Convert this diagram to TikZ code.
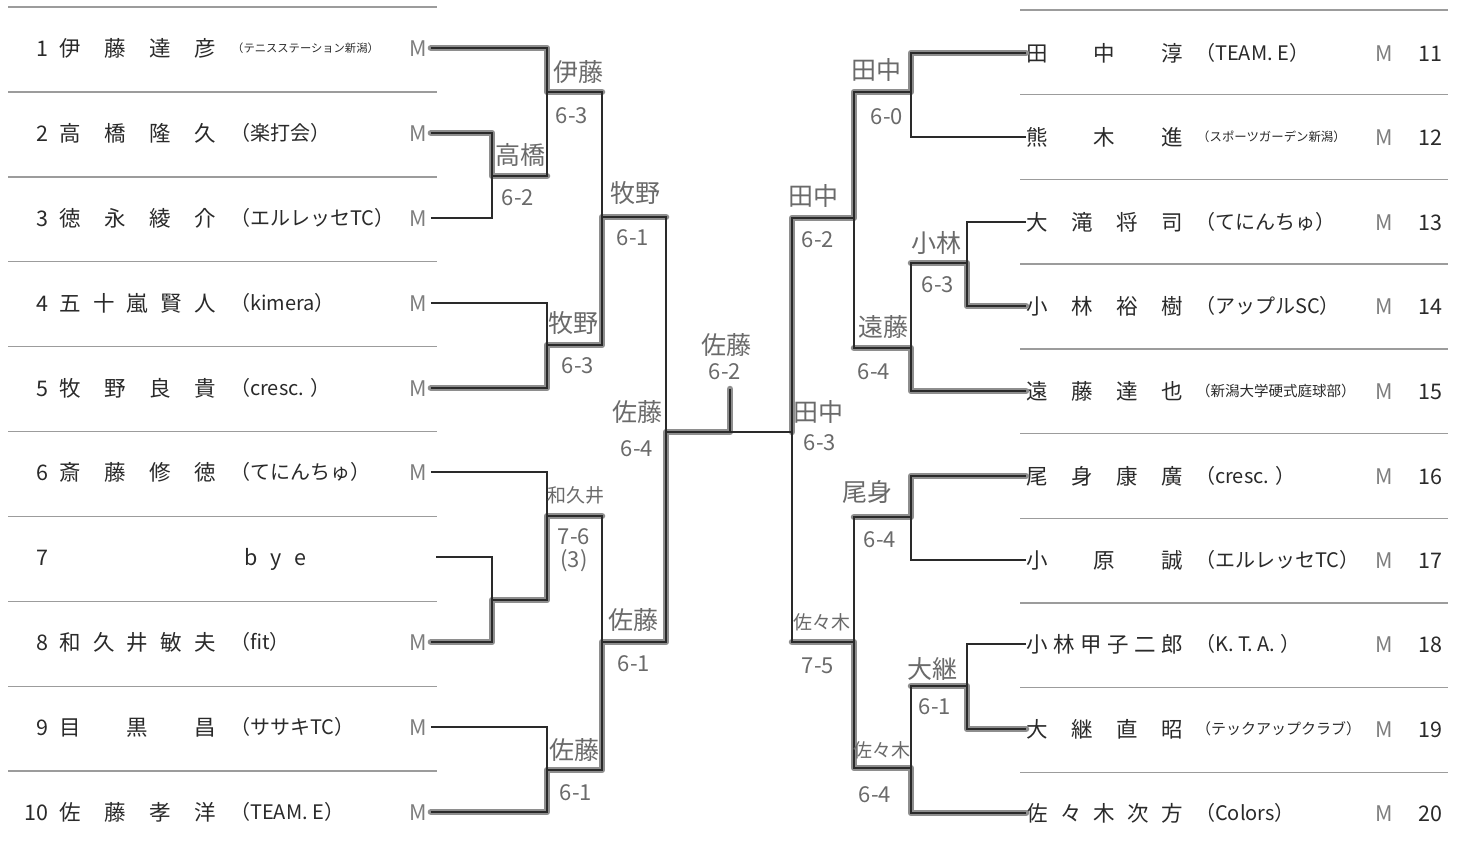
\documentclass[tikz,border=0pt]{standalone}
\usepackage{fontspec}
\setmainfont{Noto Sans CJK JP}
\definecolor{ink}{HTML}{2A2A2A}
\definecolor{mgray}{HTML}{7E7E7E}
\definecolor{rulegray}{HTML}{9C9C9C}
\definecolor{marker}{HTML}{8E8E8E}
\definecolor{pencil}{HTML}{6A6A6A}

\begin{document}
\begin{tikzpicture}[x=1pt, y=-1pt,
	num/.style={anchor=east, inner sep=0pt, text=ink, text height=16pt, text depth=0pt, font=\fontsize{21.5}{22}\selectfont},
	nm/.style={anchor=west, inner sep=0pt, text=ink, text height=16pt, text depth=0pt, font=\fontsize{21.5}{22}\selectfont},
	club/.style={anchor=west, inner sep=0pt, text=ink, text height=15.4pt, text depth=0pt, font=\fontsize{20}{20}\selectfont},
	mk/.style={inner sep=4pt, text=mgray, text height=16pt, text depth=0pt, font=\fontsize{21.5}{22}\selectfont},
	sep/.style={draw=rulegray, line width=1.4pt},
	ln/.style={draw=ink, line width=1.5pt},
	win/.style={draw=marker, line width=6.5pt, line cap=round, line join=round},
	hw/.style={text=pencil, inner sep=0pt, font=\fontsize{25}{25}\selectfont},
	hwl/.style={text=pencil, inner sep=0pt, font=\fontsize{19}{19}\selectfont},
	sc/.style={text=pencil, inner sep=0pt, font=\fontsize{22}{22}\selectfont},
]
	\fill[white] (0,0) rectangle (1458,852);
	\useasboundingbox (0,0) rectangle (1458,852);

	% separators
	\foreach \k in {0,...,9} {
		\draw[sep] (8,{7+84.9*\k}) -- (437,{7+84.9*\k});
		\draw[sep] (1020,{10+84.7*\k}) -- (1448,{10+84.7*\k});
	}

	% left players
	\node[num] (k1) at (49,48) {1};
	\node[nm] (n1) at (59,48) {\makebox[157pt][s]{伊 藤 達 彦}};
	\node[club, text height=8.7pt, font=\fontsize{11.3}{12}\selectfont] (c1) at (232,48) {（テニスステーション新潟）};
	\node[mk] (m1) at (418,48) {M};

	\node[num] (k2) at (49,133) {2};
	\node[nm] (n2) at (59,133) {\makebox[157pt][s]{高 橋 隆 久}};
	\node[club] (c2) at (230,133) {（楽打会）};
	\node[mk] (m2) at (418,133) {M};

	\node[num] (k3) at (49,218) {3};
	\node[nm] (n3) at (59,218) {\makebox[157pt][s]{徳 永 綾 介}};
	\node[club] (c3) at (230,218) {（エルレッセTC）};
	\node[mk] (m3) at (418,218) {M};

	\node[num] (k4) at (49,303) {4};
	\node[nm] (n4) at (59,303) {\makebox[157pt][s]{五 十 嵐 賢 人}};
	\node[club] (c4) at (230,303) {（kimera）};
	\node[mk] (m4) at (418,303) {M};

	\node[num] (k5) at (49,388) {5};
	\node[nm] (n5) at (59,388) {\makebox[157pt][s]{牧 野 良 貴}};
	\node[club] (c5) at (230,388) {（cresc. ）};
	\node[mk] (m5) at (418,388) {M};

	\node[num] (k6) at (49,472) {6};
	\node[nm] (n6) at (59,472) {\makebox[157pt][s]{斎 藤 修 徳}};
	\node[club] (c6) at (230,472) {（てにんちゅ）};
	\node[mk] (m6) at (418,472) {M};

	\node[num] (k7) at (49,557) {7};
	\node[nm, anchor=center] (n7) at (275,557) {\makebox[62pt][s]{b y e}};
	\coordinate (m7) at (436,557);

	\node[num] (k8) at (49,642) {8};
	\node[nm] (n8) at (59,642) {\makebox[157pt][s]{和 久 井 敏 夫}};
	\node[club] (c8) at (230,642) {（fit）};
	\node[mk] (m8) at (418,642) {M};

	\node[num] (k9) at (49,727) {9};
	\node[nm] (n9) at (59,727) {\makebox[157pt][s]{目 黒 昌}};
	\node[club] (c9) at (230,727) {（ササキTC）};
	\node[mk] (m9) at (418,727) {M};

	\node[num] (k10) at (49,812) {10};
	\node[nm] (n10) at (59,812) {\makebox[157pt][s]{佐 藤 孝 洋}};
	\node[club] (c10) at (230,812) {（TEAM. E）};
	\node[mk] (m10) at (418,812) {M};

	% right players
	\node[nm] (n11) at (1026,53) {\makebox[157pt][s]{田 中 淳}};
	\node[club] (c11) at (1195,53) {（TEAM. E）};
	\node[mk] (m11) at (1384,53) {M};
	\node[num] (k11) at (1443,53) {11};

	\node[nm] (n12) at (1026,137) {\makebox[157pt][s]{熊 木 進}};
	\node[club, text height=9.5pt, font=\fontsize{12.4}{13}\selectfont] (c12) at (1197,137) {（スポーツガーデン新潟）};
	\node[mk] (m12) at (1384,137) {M};
	\node[num] (k12) at (1443,137) {12};

	\node[nm] (n13) at (1026,222) {\makebox[157pt][s]{大 滝 将 司}};
	\node[club] (c13) at (1195,222) {（てにんちゅ）};
	\node[mk] (m13) at (1384,222) {M};
	\node[num] (k13) at (1443,222) {13};

	\node[nm] (n14) at (1026,306) {\makebox[157pt][s]{小 林 裕 樹}};
	\node[club] (c14) at (1195,306) {（アップルSC）};
	\node[mk] (m14) at (1384,306) {M};
	\node[num] (k14) at (1443,306) {14};

	\node[nm] (n15) at (1026,391) {\makebox[157pt][s]{遠 藤 達 也}};
	\node[club, text height=11.1pt, font=\fontsize{14.5}{15}\selectfont] (c15) at (1196,391) {（新潟大学硬式庭球部）};
	\node[mk] (m15) at (1384,391) {M};
	\node[num] (k15) at (1443,391) {15};

	\node[nm] (n16) at (1026,476) {\makebox[157pt][s]{尾 身 康 廣}};
	\node[club] (c16) at (1195,476) {（cresc. ）};
	\node[mk] (m16) at (1384,476) {M};
	\node[num] (k16) at (1443,476) {16};

	\node[nm] (n17) at (1026,560) {\makebox[157pt][s]{小 原 誠}};
	\node[club] (c17) at (1195,560) {（エルレッセTC）};
	\node[mk] (m17) at (1384,560) {M};
	\node[num] (k17) at (1443,560) {17};

	\node[nm] (n18) at (1026,644) {\makebox[157pt][s]{小 林 甲 子 二 郎}};
	\node[club] (c18) at (1195,644) {（K. T. A. ）};
	\node[mk] (m18) at (1384,644) {M};
	\node[num] (k18) at (1443,644) {18};

	\node[nm] (n19) at (1026,729) {\makebox[157pt][s]{大 継 直 昭}};
	\node[club, text height=11.5pt, font=\fontsize{15}{15}\selectfont] (c19) at (1196,729) {（テックアップクラブ）};
	\node[mk] (m19) at (1384,729) {M};
	\node[num] (k19) at (1443,729) {19};

	\node[nm] (n20) at (1026,813) {\makebox[157pt][s]{佐 々 木 次 方}};
	\node[club] (c20) at (1195,813) {（Colors）};
	\node[mk] (m20) at (1384,813) {M};
	\node[num] (k20) at (1443,813) {20};

	% junctions
	\coordinate (g23) at (492,176);
	\coordinate (g1) at (547,92);
	\coordinate (g45) at (547,345);
	\coordinate (gA) at (602,217);
	\coordinate (g78) at (492,600);
	\coordinate (g6) at (547,516);
	\coordinate (g910) at (547,770);
	\coordinate (gB) at (602,642);
	\coordinate (gL) at (666,432);
	\coordinate (ch) at (730,432);
	\coordinate (cht) at (730,389);
	\coordinate (h1112) at (911,92);
	\coordinate (h1314) at (967,263);
	\coordinate (h15) at (911,348);
	\coordinate (hC) at (854,218);
	\coordinate (h1617) at (911,517);
	\coordinate (h1819) at (967,686);
	\coordinate (h20) at (911,768);
	\coordinate (hD) at (854,642);
	\coordinate (gR) at (792,432);

	% winners
	\draw[win] (m1.east) -| (g1) -- (gA |- g1);
	\draw[win] (m2.east) -| (g23) -- (g1 |- g23);
	\draw[win] (m5.east) -| (g45) -- (gA |- g45) -- (gA) -- (gL |- gA);
	\draw[win] (m8.east) -| (g78) -- (g6 |- g78) -- (g6) -- (gB |- g6);
	\draw[win] (m10.east) -| (g910) -- (gB |- g910) -- (gB) -- (gL |- gB) -- (gL) -- (ch) -- (cht);
	\draw[win] (n11.west) -| (h1112) -- (hC |- h1112) -- (hC) -- (gR |- hC) -- (gR);
	\draw[win] (n14.west) -| (h1314) -- (h15 |- h1314);
	\draw[win] (n15.west) -| (h15) -- (hC |- h15);
	\draw[win] (n16.west) -| (h1617) -- (hD |- h1617);
	\draw[win] (n19.west) -| (h1819) -- (h20 |- h1819);
	\draw[win] (n20.west) -| (h20) -- (hD |- h20) -- (hD) -- (gR |- hD);

	% bracket
	\draw[ln] (m1.east) -| (g1);
	\draw[ln] (m2.east) -| (g23);
	\draw[ln] (m3.east) -| (g23);
	\draw[ln] (g23) -| (g1);
	\draw[ln] (g1) -| (gA);
	\draw[ln] (m4.east) -| (g45);
	\draw[ln] (m5.east) -| (g45);
	\draw[ln] (g45) -| (gA);
	\draw[ln] (gA) -| (gL);
	\draw[ln] (m7) -| (g78);
	\draw[ln] (m8.east) -| (g78);
	\draw[ln] (g78) -| (g6);
	\draw[ln] (m6.east) -| (g6);
	\draw[ln] (g6) -| (gB);
	\draw[ln] (m9.east) -| (g910);
	\draw[ln] (m10.east) -| (g910);
	\draw[ln] (g910) -| (gB);
	\draw[ln] (gB) -| (gL);
	\draw[ln] (gL) -- (gR);
	\draw[ln] (ch) -- (cht);
	\draw[ln] (n11.west) -| (h1112);
	\draw[ln] (n12.west) -| (h1112);
	\draw[ln] (h1112) -| (hC);
	\draw[ln] (n13.west) -| (h1314);
	\draw[ln] (n14.west) -| (h1314);
	\draw[ln] (h1314) -| (h15);
	\draw[ln] (n15.west) -| (h15);
	\draw[ln] (h15) -| (hC);
	\draw[ln] (hC) -| (gR);
	\draw[ln] (n16.west) -| (h1617);
	\draw[ln] (n17.west) -| (h1617);
	\draw[ln] (h1617) -| (hD);
	\draw[ln] (n18.west) -| (h1819);
	\draw[ln] (n19.west) -| (h1819);
	\draw[ln] (h1819) -| (h20);
	\draw[ln] (n20.west) -| (h20);
	\draw[ln] (h20) -| (hD);
	\draw[ln] (hD) -| (gR);

	% results
	\node[hw] (w1) at (578,72) {伊藤};
	\node[sc] (s1) at (572,116) {6-3};
	\node[hw] (w2) at (520,155) {高橋};
	\node[sc] (s2) at (518,198) {6-2};
	\node[hw] (w3) at (635,193) {牧野};
	\node[sc] (s3) at (633,238) {6-1};
	\node[hw] (w4) at (573,323) {牧野};
	\node[sc] (s4) at (578,366) {6-3};
	\node[hw] (w5) at (637,412) {佐藤};
	\node[sc] (s5) at (637,449) {6-4};
	\node[hwl] (w6) at (576,495) {和久井};
	\node[sc] (s6) at (574,537) {7-6};
	\node[sc] (s6b) at (574,561) {(3)};
	\node[hw] (w7) at (633,620) {佐藤};
	\node[sc] (s7) at (634,664) {6-1};
	\node[hw] (w8) at (574,750) {佐藤};
	\node[sc] (s8) at (576,793) {6-1};
	\node[hw] (w9) at (726,345) {佐藤};
	\node[sc] (s9) at (725,372) {6-2};
	\node[hw] (w11) at (876,70) {田中};
	\node[sc] (s11) at (887,117) {6-0};
	\node[hw] (w12) at (813,196) {田中};
	\node[sc] (s12) at (818,240) {6-2};
	\node[hw] (w13) at (936,243) {小林};
	\node[sc] (s13) at (938,285) {6-3};
	\node[hw] (w14) at (883,327) {遠藤};
	\node[sc] (s14) at (874,372) {6-4};
	\node[hw] (w15) at (818,412) {田中};
	\node[sc] (s15) at (820,443) {6-3};
	\node[hw] (w16) at (867,492) {尾身};
	\node[sc] (s16) at (880,540) {6-4};
	\node[hwl] (w17) at (822,622) {佐々木};
	\node[sc] (s17) at (818,666) {7-5};
	\node[hw] (w18) at (932,669) {大継};
	\node[sc] (s18) at (935,707) {6-1};
	\node[hwl] (w19) at (882,750) {佐々木};
	\node[sc] (s19) at (875,795) {6-4};
\end{tikzpicture}
\end{document}
